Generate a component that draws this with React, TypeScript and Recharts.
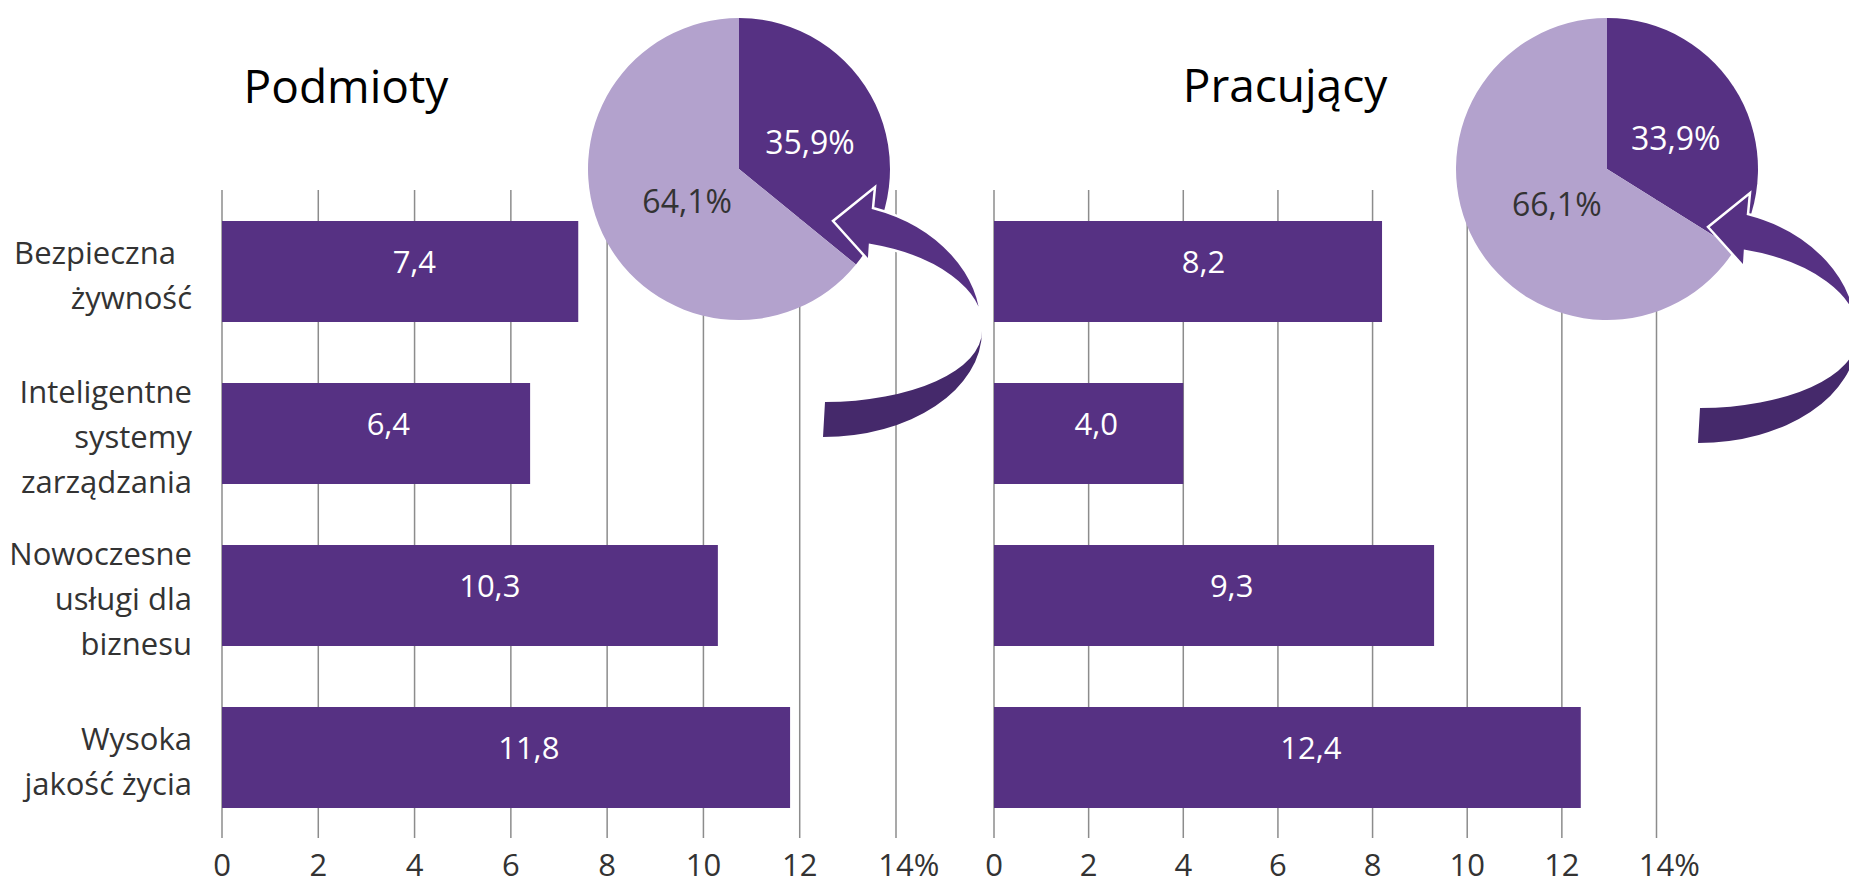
import { BarChart, Bar, XAxis, YAxis, CartesianGrid, LabelList, PieChart, Pie, Cell } from "recharts"

// category names, line breaks as in the original axis
const categories = [
  "Bezpieczna\u00a0\u00a0\nżywność",
  "Inteligentne\nsystemy\nzarządzania",
  "Nowoczesne\nusługi dla\nbiznesu",
  "Wysoka\njakość życia",
]
const podmiotyValues = [7.4, 6.4, 10.3, 11.8]
const pracujacyValues = [8.2, 4.0, 9.3, 12.4]
const xTicks = [0, 2, 4, 6, 8, 10, 12, 14]
const podmiotyShare = [35.9, 64.1]
const pracujacyShare = [33.9, 66.1]
const titles = ["Podmioty", "Pracujący"]

const PURPLE = "#563183"
const LILAC = "#b3a2cd"
const DARK_PURPLE = "#45296b"
const GRID = "#8c8c8c"
const TEXT = "#333333"
const FONT = "'Open Sans', sans-serif"
const RAD = Math.PI / 180

const podmiotyData = categories.map((name, i) => ({ name, value: podmiotyValues[i] }))
const pracujacyData = categories.map((name, i) => ({ name, value: pracujacyValues[i] }))
const podmiotyPie = podmiotyShare.map((value, i) => ({ name: i === 0 ? "a" : "b", value }))
const pracujacyPie = pracujacyShare.map((value, i) => ({ name: i === 0 ? "a" : "b", value }))

const fmt = (v: number) => v.toFixed(1).replace(".", ",")

function CategoryTick({ x, y, payload }: any) {
  const lines = String(payload.value).split("\n")
  const start = y - ((lines.length - 1) * 45) / 2 + 15
  return (
    <text x={x} textAnchor="end" fontSize={31} fill={TEXT} fontFamily={FONT}>
      {lines.map((l, i) => (
        <tspan key={i} x={x} y={start + i * 45}>
          {l}
        </tspan>
      ))}
    </text>
  )
}

// the number sits centred on the gridline, "%" hangs to the right
function ValueTick({ x, y, payload }: any) {
  const v = payload.value
  const s = String(v)
  const last = v === xTicks[xTicks.length - 1]
  return (
    <text
      x={x}
      y={y + 38}
      dx={last ? `${-0.286 * s.length}em` : 0}
      textAnchor={last ? "start" : "middle"}
      fontSize={31}
      fill={TEXT}
      fontFamily={FONT}
    >
      {last ? s + "%" : s}
    </text>
  )
}

function BarValueLabel({ x, y, width, height, value }: any) {
  return (
    <text x={x + width * 0.54} y={y + height / 2 + 1} textAnchor="middle" fill="#ffffff" fontSize={31} fontFamily={FONT}>
      {fmt(value)}
    </text>
  )
}

function PieShareLabel({ cx, cy, midAngle, outerRadius, index, value }: any) {
  const r = outerRadius * (index === 0 ? 0.52 : 0.38)
  const x = cx + r * Math.cos(-midAngle * RAD)
  const y = cy + r * Math.sin(-midAngle * RAD) + 8
  return (
    <text x={x} y={y + 11} textAnchor="middle" fill={index === 0 ? "#ffffff" : TEXT} fontSize={32} fontFamily={FONT}>
      {fmt(value)}%
    </text>
  )
}

function SharePie({ data }: { data: { name: string; value: number }[] }) {
  return (
    <PieChart width={330} height={330}>
      <Pie
        data={data}
        dataKey="value"
        cx={165}
        cy={165}
        outerRadius={151}
        startAngle={90}
        endAngle={-270}
        stroke="none"
        label={PieShareLabel}
        labelLine={false}
        isAnimationActive={false}
      >
        {data.map((_, i) => (
          <Cell key={i} fill={i === 0 ? PURPLE : LILAC} />
        ))}
      </Pie>
    </PieChart>
  )
}

// curved arrow pointing from the bars to the pie slice
function CurvedArrow({ dx, dy }: { dx: number; dy: number }) {
  return (
    <g transform={`translate(${dx},${dy})`}>
      <path d="M 982 331 A 157 71 0 0 1 825 402 L 823 437 A 159 106 0 0 0 982 331 Z" fill={DARK_PURPLE} />
      <path
        d="M 873 208 L 875 187 L 833 221 L 869 261 L 870 245 A 159 87 0 0 1 982 328 A 159 126 0 0 0 873 208 Z"
        fill={PURPLE}
        stroke="#ffffff"
        strokeWidth={2.5}
        strokeLinejoin="miter"
      />
    </g>
  )
}

function HBars({
  data,
  width,
  margin,
  showCategories,
}: {
  data: { name: string; value: number }[]
  width: number
  margin: { top: number; right: number; left: number; bottom: number }
  showCategories: boolean
}) {
  return (
    <BarChart layout="vertical" width={width} height={885} data={data} margin={margin}>
      <CartesianGrid horizontal={false} stroke={GRID} strokeWidth={1.5} />
      <XAxis
        type="number"
        domain={[0, 14]}
        ticks={xTicks}
        interval={0}
        axisLine={false}
        tickLine={false}
        tickSize={0}
        tickMargin={0}
        height={47}
        tick={ValueTick}
      />
      <YAxis
        type="category"
        dataKey="name"
        hide={!showCategories}
        width={222}
        interval={0}
        axisLine={false}
        tickLine={false}
        tickSize={0}
        tickMargin={30}
        tick={CategoryTick}
      />
      <Bar dataKey="value" fill={PURPLE} barSize={101} isAnimationActive={false}>
        <LabelList dataKey="value" content={BarValueLabel} />
      </Bar>
    </BarChart>
  )
}

export default function App() {
  return (
    <div
      style={{
        position: "absolute",
        left: 0,
        top: 0,
        width: 1849,
        height: 885,
        overflow: "hidden",
        background: "#ffffff",
        fontFamily: FONT,
      }}
    >
      <div style={{ position: "absolute", left: 0, top: 0 }}>
        <HBars data={podmiotyData} width={960} margin={{ top: 190, right: 64, left: 0, bottom: 0 }} showCategories />
      </div>
      <div style={{ position: "absolute", left: 930, top: 0 }}>
        <HBars
          data={pracujacyData}
          width={919}
          margin={{ top: 190, right: 192.5, left: 64, bottom: 0 }}
          showCategories={false}
        />
      </div>
      <div style={{ position: "absolute", left: 569, top: -1 }}>
        <SharePie data={podmiotyPie} />
      </div>
      <div style={{ position: "absolute", left: 1437, top: -1 }}>
        <SharePie data={pracujacyPie} />
      </div>
      <svg width={1849} height={885} style={{ position: "absolute", left: 0, top: 0, pointerEvents: "none" }}>
        <text x={346} y={103} textAnchor="middle" fontSize={46} fill="#000000" fontFamily={FONT}>
          {titles[0]}
        </text>
        <text x={1285} y={102} textAnchor="middle" fontSize={46} fill="#000000" fontFamily={FONT}>
          {titles[1]}
        </text>
        <CurvedArrow dx={0} dy={0} />
        <CurvedArrow dx={875} dy={6} />
      </svg>
    </div>
  )
}
